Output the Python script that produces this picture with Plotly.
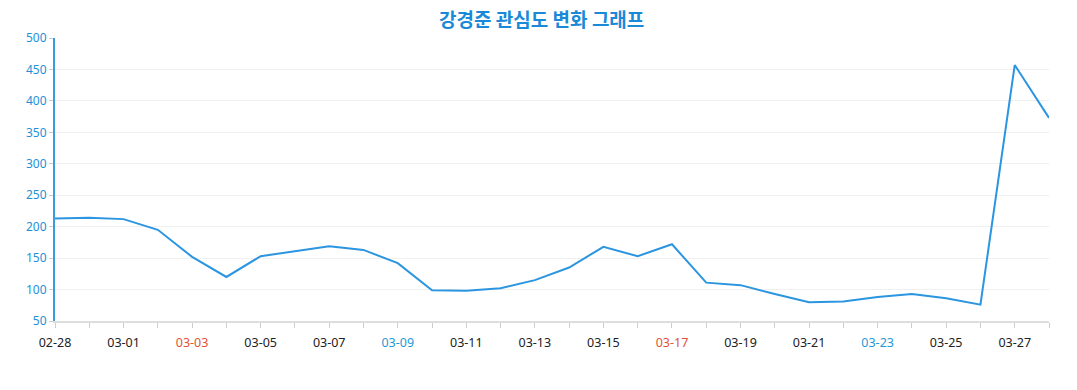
import plotly.graph_objects as go

dates = ["02-28", "02-29"] + [f"03-{d:02d}" for d in range(1, 29)]
values = [213, 214, 212, 195, 152, 120, 153, 161, 169, 163, 142, 99, 98, 102, 115, 135,
          168, 153, 172, 111, 107, 93, 80, 81, 88, 93, 86, 76, 457, 373]
red_labels = ["03-03", "03-17"]
blue_labels = ["03-09", "03-23"]
title_text = "강경준 관심도 변화 그래프"

ticktext = []
for i, d in enumerate(dates):
    if i % 2 == 1:
        ticktext.append("")
    elif d in red_labels:
        ticktext.append(f'<span style="color:#e0533a">{d}</span>')
    elif d in blue_labels:
        ticktext.append(f'<span style="color:#1e9ad6">{d}</span>')
    else:
        ticktext.append(d)

fig = go.Figure(go.Scatter(x=dates, y=values, mode="lines",
                           line=dict(color="#2b95e0", width=2), hoverinfo="x+y"))

fig.update_layout(
    width=1077, height=390,
    margin=dict(l=55, r=28, t=38, b=69, autoexpand=False),
    paper_bgcolor="white", plot_bgcolor="white",
    title=dict(text=f"<b>{title_text}</b>", x=0.503, xanchor="center", y=0.949, yanchor="middle",
               font=dict(family="Noto Sans CJK KR", size=19, color="#1a8ad8")),
    font=dict(family="Noto Sans, Open Sans, sans-serif", size=12),
    showlegend=False,
    xaxis=dict(type="category", range=[0, len(dates) - 1], tickmode="array",
               tickvals=dates, ticktext=ticktext, showgrid=False, automargin=False,
               showline=True, linecolor="#dddddd", linewidth=1.5,
               ticks="outside", ticklen=5, tickcolor="#cccccc", ticklabelstandoff=4,
               tickfont=dict(color="#222222", size=12.5), zeroline=False),
    yaxis=dict(range=[50, 500], dtick=50, tick0=50, showgrid=True, gridcolor="#f0f0f0",
               showline=True, linecolor="#3a9be0", linewidth=2, automargin=False,
               ticks="outside", ticklen=4, tickcolor="#cccccc",
               tickfont=dict(color="#1e90d6", size=12), zeroline=False),
)

fig.write_html("out.html", config={"displayModeBar": False},
               post_script="document.body.style.margin='0';")
